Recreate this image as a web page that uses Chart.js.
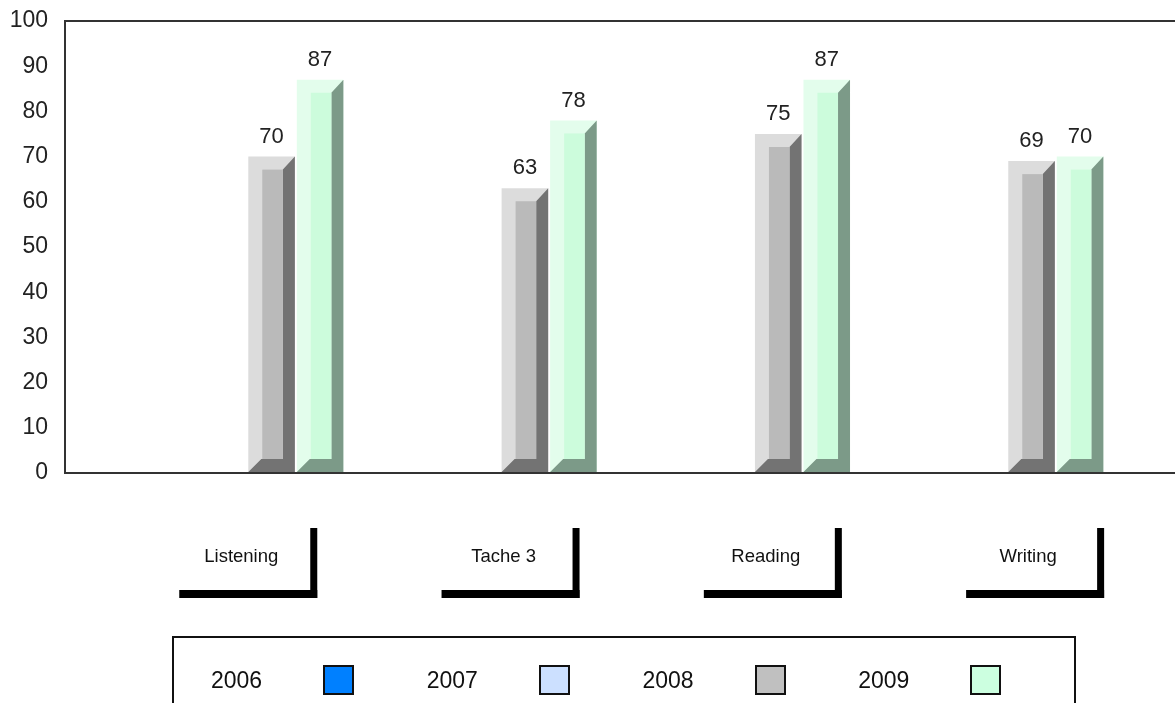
<!DOCTYPE html>
<html>
<head>
<meta charset="utf-8">
<script src="https://cdn.jsdelivr.net/npm/chart.js@4/dist/chart.umd.min.js"></script>
<style>
  body { margin: 0; background: #fff; overflow: hidden; }
  #wrap { position: relative; width: 1175px; height: 703px; }
  #chart { display: block; }
  #legend { position: absolute; left: 172px; top: 636px; width: 900px; height: 90px;
    border: 2px solid #111; display: flex; font: 23px "Liberation Sans", Arial, sans-serif; color: #111; }
  .item { width: 226px; display: flex; align-items: center; height: 84px; }
  .item:first-child { margin-left: 37px; }
  .item span { width: 112px; }
  .item i { width: 27px; height: 26px; border: 2px solid #111; }
</style>
</head>
<body>
<div id="wrap">
  <canvas id="chart" width="1175" height="703"></canvas>
  <div id="legend"></div>
</div>
<script>
var categories = ["Listening", "Tache 3", "Reading", "Writing"];
var years = ["2006", "2007", "2008", "2009"];
var values2006 = [null, null, null, null];
var values2007 = [null, null, null, null];
var values2008 = [70, 63, 75, 69];
var values2009 = [87, 78, 87, 70];

// bar colours: light outer, mid front, dark side, legend swatch
var lightColors = ["#0080ff", "#cce0ff", "#dcdcdc", "#e3fdec"];
var faceColors  = ["#0070e0", "#b8d0f0", "#bababa", "#ccfcdc"];
var sideColors  = ["#004080", "#667080", "#737373", "#7c9a88"];
var swatchColors = ["#0080ff", "#cce0ff", "#c0c0c0", "#ccffe0"];

var allValues = [values2006, values2007, values2008, values2009];

var legend = document.getElementById("legend");
years.forEach(function (y, i) {
    var d = document.createElement("div");
    d.className = "item";
    d.innerHTML = "<span>" + y + "</span><i style='background:" + swatchColors[i] + "'></i>";
    legend.appendChild(d);
});

function categoryTicks(s) {
    s.ticks = categories.map(function (c, i) { return { value: i }; });
}

var bevelPlugin = {
    id: "bevel",
    afterDatasetsDraw: function (chart) {
        var ctx = chart.ctx;
        chart.data.datasets.forEach(function (ds, di) {
            var meta = chart.getDatasetMeta(di);
            meta.data.forEach(function (bar, i) {
                if (allValues[di][i] == null) return;
                var p = bar.getProps(["x", "y", "base", "width"], true);
                var l = p.x - p.width / 2, r = p.x + p.width / 2, t = p.y, b = p.base;
                ctx.save();
                ctx.fillStyle = sideColors[di];
                ctx.beginPath();
                ctx.moveTo(r, t);
                ctx.lineTo(r, b);
                ctx.lineTo(l, b);
                ctx.lineTo(l + 13, b - 13);
                ctx.lineTo(r - 12, b - 13);
                ctx.lineTo(r - 12, t + 13);
                ctx.closePath();
                ctx.fill();
                ctx.fillStyle = faceColors[di];
                ctx.fillRect(l + 14, t + 13, r - 12 - (l + 14), b - 13 - (t + 13));
                ctx.fillStyle = "#222";
                ctx.font = "22px 'Liberation Sans', Arial, sans-serif";
                ctx.textAlign = "center";
                ctx.textBaseline = "bottom";
                ctx.fillText(String(allValues[di][i]), p.x, t - 9);
                ctx.restore();
            });
        });
    },
    afterDraw: function (chart) {
        var ctx = chart.ctx, sc = chart.scales.xLabels, y0 = chart.chartArea.bottom;
        ctx.save();
        ctx.fillStyle = "#000";
        categories.forEach(function (c, i) {
            var cx = sc.getPixelForValue(i);
            ctx.fillRect(cx + 69, y0 + 55, 7, 70);
            ctx.fillRect(cx - 62, y0 + 117, 138, 8);
        });
        ctx.restore();
    }
};

var ctx = document.getElementById("chart");
var chartGraph = new Chart(ctx, {
    type: "bar",
    data: {
        datasets: years.map(function (y, di) {
            return {
                label: y,
                xAxisID: "x",
                data: allValues[di].map(function (v, i) { return { x: i, y: v }; }),
                backgroundColor: lightColors[di],
                borderWidth: 0,
                categoryPercentage: 0.766,
                barPercentage: 0.96
            };
        })
    },
    options: {
        responsive: false,
        devicePixelRatio: 1,
        animation: false,
        layout: { padding: { top: 21, left: 0, right: 0, bottom: 0 } },
        plugins: { legend: { display: false }, tooltip: { enabled: false } },
        scales: {
            x: {
                type: "linear",
                offset: false,
                min: -0.7197,
                max: 3.662,
                afterBuildTicks: categoryTicks,
                afterFit: function (s) { s.height = 0; },
                grid: { display: false, drawTicks: false },
                border: { display: true, color: "#333", width: 2 },
                ticks: { display: false }
            },
            xLabels: {
                type: "linear",
                position: "bottom",
                offset: false,
                min: -0.672,
                max: 3.56,
                afterBuildTicks: categoryTicks,
                afterFit: function (s) { s.height = 230; s.paddingLeft = 0; s.paddingRight = 0; },
                grid: { display: false, drawTicks: false },
                border: { display: false },
                ticks: {
                    padding: 73,
                    color: "#111",
                    maxRotation: 0,
                    font: { family: "'Liberation Sans', Arial, sans-serif", size: 18.5 },
                    callback: function (v) { return categories[v]; }
                }
            },
            y: {
                min: 0,
                max: 100,
                afterFit: function (s) { s.width = 65; s.paddingTop = 0; s.paddingBottom = 0; },
                grid: {
                    drawTicks: false,
                    lineWidth: 2,
                    color: function (c) { return c.tick && c.tick.value === 100 ? "#333" : "transparent"; }
                },
                border: { display: true, color: "#333", width: 2 },
                ticks: {
                    stepSize: 10,
                    padding: 17,
                    color: "#222",
                    font: { family: "'Liberation Sans', Arial, sans-serif", size: 23 }
                }
            }
        }
    },
    plugins: [bevelPlugin]
});
</script>
</body>
</html>
